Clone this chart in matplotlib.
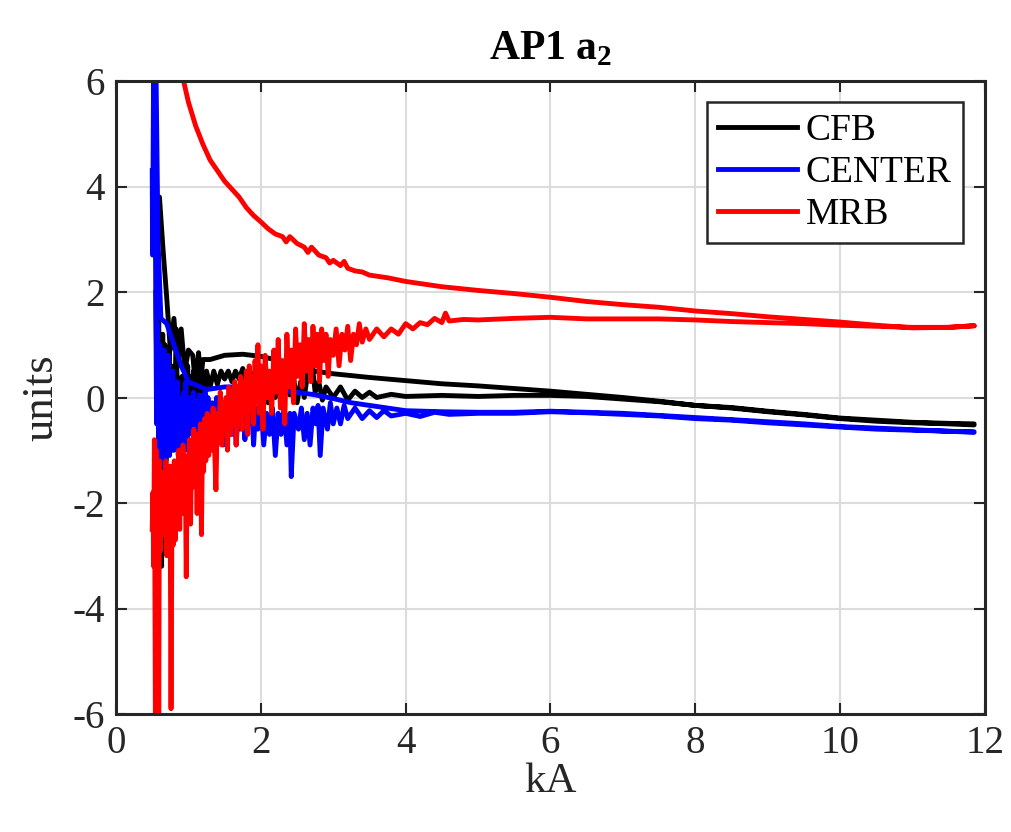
import numpy as np
import matplotlib
matplotlib.use('Agg')
import matplotlib.pyplot as plt

## values
# each series = up branch (noisy, increasing current) + down branch (smoother, decreasing current)
cfb_up_x = [0.55, 0.57, 0.59, 0.61, 0.63, 0.645, 0.66, 0.675, 0.69, 0.705, 0.72, 0.735, 0.75, 0.765,
            0.78, 0.795, 0.81, 0.83, 0.85, 0.87, 0.89, 0.91, 0.93, 0.95, 0.97, 0.99, 1.01, 1.03, 1.05,
            1.07, 1.10, 1.13, 1.16, 1.19, 1.22, 1.25, 1.30, 1.35, 1.40, 1.45, 1.50, 1.55, 1.60, 1.65,
            1.70, 1.75, 1.80, 1.85, 1.90, 1.95, 2.00, 2.05, 2.10, 2.15, 2.20, 2.25, 2.30, 2.35, 2.40,
            2.45, 2.50, 2.55, 2.60, 2.65, 2.70, 2.75, 2.80, 2.85, 2.90, 3.00, 3.10, 3.20, 3.30, 3.40,
            3.50, 3.60, 3.80, 4.00, 4.50, 5.00, 5.50, 6.00, 6.50, 7.00, 7.50, 8.00, 8.50, 9.00, 9.50,
            10.0, 10.5, 11.0, 11.5, 11.85]
cfb_up_y = [2.0, -0.5, 1.5, -1.0, -3.2, 1.2, -0.5, 1.0, -1.2, 0.8, -0.8, 0.9, -0.3, 0.6,
            -1.0, 0.4, -0.5, 1.3, -0.2, 0.3, -0.9, 0.4, -0.4, 0.5, 0.0, 0.6, -0.5, 0.4, -0.1,
            0.5, 0.0, 0.5, 0.1, 0.45, 0.0, 0.5, 0.2, 0.5, 0.25, 0.5, 0.35, 0.5, 0.3, 0.5,
            0.35, 0.55, 0.3, 0.5, 0.35, 0.45, 0.1, 0.45, -0.1, 0.3, 0.0, 0.35, -0.2, 0.3, 0.05,
            0.4, -0.1, 0.3, 0.0, 0.5, 0.75, 0.1, 0.3, -0.05, 0.2, 0.0, 0.2, -0.05, 0.12, 0.0,
            0.1, 0.0, 0.06, 0.02, 0.04, 0.02, 0.04, 0.04, 0.02, -0.03, -0.08, -0.15, -0.2, -0.27, -0.33,
            -0.4, -0.45, -0.48, -0.5, -0.52]
cfb_dn_x = [11.85, 11.5, 11.0, 10.5, 10.0, 9.5, 9.0, 8.5, 8.0, 7.5, 7.0, 6.5, 6.0, 5.5, 5.0, 4.5,
            4.0, 3.5, 3.0, 2.75, 2.5, 2.25, 2.0, 1.75, 1.5, 1.3, 1.2, 1.17, 1.14, 1.1, 1.06, 1.0,
            0.95, 0.9, 0.85, 0.8, 0.75, 0.7, 0.65, 0.6, 0.57]
cfb_dn_y = [-0.5, -0.49, -0.47, -0.43, -0.39, -0.32, -0.26, -0.19, -0.15, -0.07, 0.0, 0.06, 0.12,
            0.17, 0.22, 0.26, 0.32, 0.38, 0.45, 0.5, 0.62, 0.7, 0.78, 0.82, 0.8, 0.72, 0.72, 0.3,
            0.85, 0.2, 0.8, 0.9, 0.5, 1.3, 0.6, 1.5, 0.9, 1.9, 2.8, 3.8, 3.0]

center_up_x = [0.50, 0.505, 0.52, 0.54, 0.56, 0.575, 0.59, 0.605, 0.62, 0.635, 0.65, 0.665, 0.68,
               0.695, 0.71, 0.725, 0.74, 0.755, 0.77, 0.785, 0.80, 0.815, 0.83, 0.845, 0.86, 0.875,
               0.89, 0.905, 0.92, 0.935, 0.95, 0.965, 0.98, 0.995, 1.01, 1.03, 1.05, 1.07, 1.09,
               1.11, 1.13, 1.15, 1.17, 1.19, 1.21, 1.23, 1.25, 1.27, 1.30, 1.33, 1.36, 1.39, 1.42,
               1.45, 1.48, 1.51, 1.54, 1.57, 1.60, 1.63, 1.66, 1.69, 1.72, 1.75, 1.78, 1.81, 1.84,
               1.87, 1.90, 1.93, 1.96, 2.00, 2.04, 2.08, 2.12, 2.16, 2.20, 2.24, 2.28, 2.32, 2.36,
               2.40, 2.42, 2.46, 2.52, 2.56, 2.60, 2.64, 2.68, 2.72, 2.76, 2.79, 2.82, 2.86, 2.92,
               2.96, 3.00, 3.05, 3.10, 3.15, 3.20, 3.30, 3.40, 3.50, 3.60, 3.70, 3.80, 4.00, 4.20,
               4.40, 4.60, 5.00, 5.50, 6.00, 6.50, 7.00, 7.50, 8.00, 8.50, 9.00, 9.50, 10.0, 10.5,
               11.0, 11.5, 11.85]
center_up_y = [4.3, 2.7, 6.5, 4.0, -0.5, 1.4, -1.0, 1.0, -1.3, 0.6, -0.8, 0.9, -1.2,
               0.3, -0.6, 0.8, -1.1, 0.2, -0.8, 0.5, -1.0, 0.1, -0.7, 0.3, -1.1, 0.0,
               -0.5, -0.1, -0.9, 0.1, -0.6, 0.3, -1.0, 0.0, -0.7, 0.0, -0.5, 0.1, -0.9,
               -0.1, -0.6, 0.05, -0.8, 0.0, -0.4, 0.1, -0.7, 0.0, -0.5, -0.1, -0.8, 0.0, -0.6,
               -0.1, -0.9, -0.1, -0.5, 0.0, -0.7, -0.1, -0.9, -0.2, -0.6, 0.0, -0.8, -0.2, -0.5,
               -0.1, -0.9, -0.2, -0.6, -0.1, -0.9, -0.3, -0.7, -0.2, -1.1, -0.3, -0.7, -0.2, -0.9,
               -0.3, -1.5, -0.3, -0.6, -0.2, -0.8, -0.3, -0.9, -0.2, -0.5, -0.15, -1.1, -0.2, -0.6,
               -0.1, -0.5, -0.2, -0.5, -0.15, -0.4, -0.2, -0.4, -0.25, -0.38, -0.25, -0.35, -0.3, -0.36,
               -0.28, -0.32, -0.3, -0.3, -0.27, -0.29, -0.32, -0.35, -0.4, -0.43, -0.48, -0.52, -0.56, -0.6,
               -0.62, -0.64, -0.66]
center_dn_x = [11.85, 11.5, 11.0, 10.5, 10.0, 9.5, 9.0, 8.5, 8.0, 7.5, 7.0, 6.5, 6.0, 5.5, 5.0,
               4.5, 4.0, 3.5, 3.25, 3.0, 2.75, 2.5, 2.25, 2.0, 1.75, 1.5, 1.25, 1.0, 0.9, 0.8, 0.7,
               0.62, 0.58, 0.55]
center_dn_y = [-0.65, -0.64, -0.61, -0.58, -0.55, -0.5, -0.46, -0.42, -0.38, -0.34, -0.3, -0.28,
               -0.26, -0.28, -0.28, -0.27, -0.25, -0.15, -0.1, -0.02, 0.05, 0.1, 0.12, 0.15, 0.2,
               0.2, 0.15, 0.3, 0.6, 1.0, 1.4, 1.5, 3.0, 6.5]

mrb_up_x = [0.50, 0.51, 0.52, 0.53, 0.545, 0.555, 0.565, 0.58, 0.59, 0.60, 0.615, 0.63, 0.645, 0.66,
            0.675, 0.69, 0.70, 0.715, 0.73, 0.745, 0.76, 0.775, 0.79, 0.805, 0.82, 0.835, 0.85,
            0.865, 0.88, 0.895, 0.91, 0.925, 0.94, 0.955, 0.97, 0.985, 1.0, 1.015, 1.03, 1.045,
            1.06, 1.075, 1.09, 1.105, 1.12, 1.135, 1.15, 1.165, 1.18, 1.195, 1.21, 1.225, 1.24,
            1.26, 1.28, 1.30, 1.32, 1.34, 1.36, 1.38, 1.40, 1.42, 1.44, 1.46, 1.48, 1.50, 1.52,
            1.54, 1.56, 1.58, 1.60, 1.62, 1.64, 1.66, 1.68, 1.70, 1.72, 1.74, 1.76, 1.78, 1.80,
            1.82, 1.84, 1.86, 1.88, 1.90, 1.92, 1.94, 1.96, 1.98, 2.00, 2.03, 2.06, 2.09, 2.12,
            2.15, 2.18, 2.21, 2.24, 2.27, 2.30, 2.33, 2.36, 2.39, 2.42, 2.45, 2.48, 2.51, 2.54,
            2.57, 2.60, 2.63, 2.66, 2.69, 2.72, 2.75, 2.78, 2.81, 2.84, 2.87, 2.90, 2.93, 2.96,
            3.00, 3.04, 3.08, 3.12, 3.16, 3.20, 3.24, 3.28, 3.32, 3.36, 3.40, 3.45, 3.50, 3.60,
            3.70, 3.80, 3.90, 4.00, 4.10, 4.20, 4.30, 4.40, 4.50, 4.55, 4.60, 4.80, 5.00, 5.50,
            6.00, 6.50, 7.00, 7.50, 8.00, 8.50, 9.00, 9.50, 10.0, 10.5, 11.0, 11.5, 11.85]
mrb_up_y = [-2.5, -1.8, -3.2, -0.8, -6.5, -1.0, -2.6, -1.5, -6.5, -1.2, -2.9, -1.8, -2.6, -1.4,
            -2.4, -1.2, -3.0, -1.6, -2.2, -1.3, -5.9, -1.5, -2.8, -1.2, -2.7, -1.3, -2.3,
            -1.0, -2.5, -1.1, -2.2, -0.9, -2.0, -1.1, -3.4, -1.2, -2.0, -0.8, -2.4, -0.9,
            -1.7, -0.6, -1.5, -0.9, -2.2, -0.7, -1.9, -0.5, -2.6, -0.7, -1.4, -0.4, -1.2,
            -0.3, -1.1, -0.4, -1.0, -0.2, -0.9, -1.75, -0.3, -0.8, 0.1, -0.9, -0.1, -0.6, 0.0,
            -1.0, 0.2, -0.7, 0.1, -0.5, 0.3, -0.9, 0.2, -0.4, 0.4, -0.6, 0.3, -0.3, 0.5,
            -0.7, 0.6, -0.2, 0.4, -0.5, 0.7, -0.1, 1.0, -0.3, 0.6, -0.6, 0.8, 0.0, 0.5,
            -0.3, 0.9, 0.1, 1.1, -0.2, 0.7, -0.5, 1.2, 0.2, 0.9, -0.1, 1.3, 0.4, 1.0,
            0.2, 1.4, 0.5, 1.1, 0.3, 1.35, 0.6, 1.2, 0.3, 1.3, 0.7, 1.2, 0.4, 1.1,
            0.8, 1.3, 0.6, 1.2, 0.9, 1.35, 0.7, 1.2, 1.0, 1.4, 1.05, 1.3, 1.1, 1.3,
            1.15, 1.3, 1.2, 1.4, 1.3, 1.42, 1.38, 1.5, 1.42, 1.6, 1.45, 1.48, 1.47, 1.50,
            1.52, 1.49, 1.49, 1.49, 1.47, 1.44, 1.42, 1.40, 1.37, 1.35, 1.33, 1.33, 1.36]
mrb_dn_x = [11.85, 11.5, 11.0, 10.5, 10.0, 9.5, 9.0, 8.5, 8.0, 7.5, 7.0, 6.5, 6.0, 5.5, 5.0,
            4.5, 4.0, 3.75, 3.6, 3.5, 3.4, 3.3, 3.2, 3.15, 3.1, 3.0, 2.95, 2.9, 2.8, 2.7, 2.65,
            2.6, 2.5, 2.4, 2.35, 2.3, 2.2, 2.1, 2.0, 1.9, 1.8, 1.7, 1.6, 1.5, 1.4, 1.3, 1.2,
            1.1, 1.0, 0.9, 0.8]
mrb_dn_y = [1.36, 1.33, 1.32, 1.37, 1.43, 1.48, 1.53, 1.59, 1.64, 1.71, 1.76, 1.82, 1.90, 1.97,
            2.03, 2.10, 2.20, 2.27, 2.30, 2.32, 2.38, 2.40, 2.45, 2.58, 2.50, 2.60, 2.55, 2.65,
            2.70, 2.85, 2.75, 2.85, 2.92, 3.05, 2.95, 3.05, 3.10, 3.20, 3.33, 3.45, 3.60, 3.80,
            3.95, 4.10, 4.30, 4.50, 4.80, 5.15, 5.60, 6.20, 7.00]

series = [('CFB', 'k', cfb_up_x, cfb_up_y, cfb_dn_x, cfb_dn_y),
          ('CENTER', 'b', center_up_x, center_up_y, center_dn_x, center_dn_y),
          ('MRB', 'r', mrb_up_x, mrb_up_y, mrb_dn_x, mrb_dn_y)]

plt.rcParams['font.family'] = ['Liberation Serif', 'DejaVu Serif']
plt.rcParams['mathtext.fontset'] = 'custom'
plt.rcParams['mathtext.rm'] = 'Liberation Serif'
plt.rcParams['mathtext.bf'] = 'Liberation Serif:bold'
plt.rcParams['axes.unicode_minus'] = False

fig = plt.figure(figsize=(10.12, 8.32), dpi=100)
ax = fig.add_axes([116/1012, 118/832, 869/1012, 633/832])

for name, col, ux, uy, dx, dy in series:
    x = np.concatenate([ux, dx])
    y = np.concatenate([uy, dy])
    ax.plot(x, y, color=col, lw=3.5, label=name, solid_joinstyle='round')

ax.set_xlim(0, 12)
ax.set_ylim(-6, 6)
ax.set_xticks(np.arange(0, 13, 2))
ax.set_yticks(np.arange(-6, 7, 2))
ax.grid(True, color='#dcdcdc', lw=1.5)
ax.set_axisbelow(True)
ax.tick_params(direction='in', length=8, width=1.5, top=True, right=True,
               labelsize=28, colors='#262626', pad=8)
for s in ax.spines.values():
    s.set_linewidth(2.2)
    s.set_color('#262626')

ax.set_xlabel('kA', fontsize=31, color='#262626', labelpad=0)
ax.set_ylabel('units', fontsize=32, color='#262626', labelpad=8)
ax.set_title(r'AP1 a$_{\mathbf{2}}$', fontsize=30, fontweight='bold', pad=16)

leg = ax.legend(loc='upper right', bbox_to_anchor=(0.9747, 0.9668), borderaxespad=0,
                fontsize=27, fancybox=False, edgecolor='#262626', framealpha=1,
                handlelength=2.1, handletextpad=0.25, labelspacing=0.2, borderpad=0.3)
leg.get_frame().set_linewidth(1.8)

fig.savefig('out.png', dpi=100)
